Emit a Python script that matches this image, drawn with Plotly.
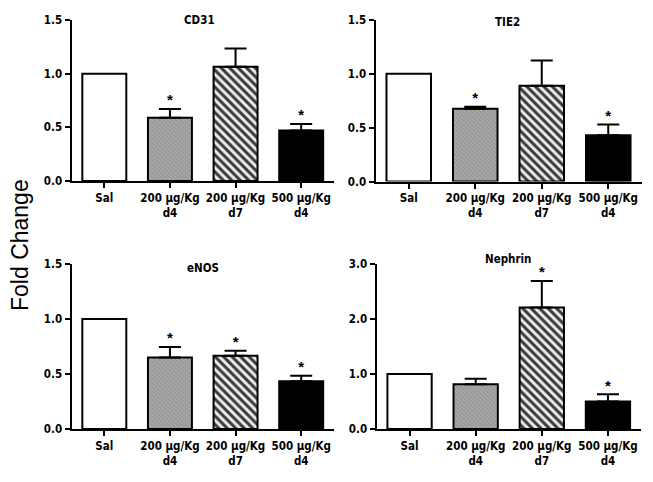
import plotly.graph_objects as go

W, H = 653, 482

categories = ["Sal", "200 µg/Kg<br>d4", "200 µg/Kg<br>d7", "500 µg/Kg<br>d4"]
panel_titles = ["CD31", "TIE2", "eNOS", "Nephrin"]

cd31_vals = [1.0, 0.59, 1.065, 0.47]
cd31_err = [0.0, 0.08, 0.17, 0.06]
cd31_sig = [False, True, False, True]

tie2_vals = [1.0, 0.675, 0.89, 0.43]
tie2_err = [0.0, 0.02, 0.235, 0.10]
tie2_sig = [False, True, False, True]

enos_vals = [1.0, 0.65, 0.665, 0.435]
enos_err = [0.0, 0.095, 0.047, 0.05]
enos_sig = [False, True, True, True]

nephrin_vals = [1.0, 0.815, 2.21, 0.50]
nephrin_err = [0.0, 0.10, 0.48, 0.13]
nephrin_sig = [False, False, True, True]

y_ticks_small = [0.0, 0.5, 1.0, 1.5]
y_ticks_nephrin = [0.0, 1.0, 2.0, 3.0]

panels = [
    (cd31_vals, cd31_err, cd31_sig, y_ticks_small),
    (tie2_vals, tie2_err, tie2_sig, y_ticks_small),
    (enos_vals, enos_err, enos_sig, y_ticks_small),
    (nephrin_vals, nephrin_err, nephrin_sig, y_ticks_nephrin),
]

# pixel boxes: (x0, x1, ytop, ybottom)
boxes = [
    (71.5, 334.0, 20.0, 181.0),
    (375.5, 641.5, 20.0, 181.5),
    (71.5, 334.0, 264.0, 429.0),
    (376.5, 641.0, 264.0, 429.0),
]
title_pos = [(200, 20), (507, 22), (203, 268), (508, 259)]

bar_styles = [
    dict(color="white", pattern=None),
    dict(color="#a4a4a4", pattern=dict(shape="\\", bgcolor="#a9a9a9", fgcolor="#939393",
                                        size=3, solidity=0.4)),
    dict(color="white", pattern=dict(shape="\\", bgcolor="#ececec", fgcolor="#3a3a3a",
                                      size=6, solidity=0.5)),
    dict(color="black", pattern=None),
]

fig = go.Figure()
font_fam = "DejaVu Sans Condensed, Liberation Sans, Arial, sans-serif"
idx = list(range(len(categories)))

for i, (vals, errs, sig, yt) in enumerate(panels):
    n = "" if i == 0 else str(i + 1)
    xa, ya = "x" + n, "y" + n
    for k in idx:
        st = bar_styles[k]
        marker = dict(color=st["color"], line=dict(color="black", width=2))
        if st["pattern"] is not None:
            marker["pattern"] = st["pattern"]
        fig.add_trace(go.Bar(
            x=[k], y=[vals[k]], xaxis=xa, yaxis=ya, width=0.67,
            marker=marker,
            error_y=dict(type="data", symmetric=False, array=[errs[k]],
                         arrayminus=[0], color="black", thickness=2, width=11,
                         visible=errs[k] > 0),
            showlegend=False,
        ))
    sx = [k for k in idx if sig[k]]
    sy = [vals[k] + errs[k] for k in idx if sig[k]]
    fig.add_trace(go.Scatter(
        x=sx, y=sy, xaxis=xa, yaxis=ya, mode="text", text=["*"] * len(sx),
        textposition="top center", cliponaxis=False,
        textfont=dict(family="Liberation Sans, Arial", size=15, color="black", weight="bold"),
        showlegend=False,
    ))
    x0, x1, yt0, yb = boxes[i]
    fig.layout["xaxis" + n] = dict(
        domain=[x0 / W, x1 / W], range=[-0.5, 3.5], anchor=ya,
        tickvals=idx, ticktext=categories, ticks="outside", ticklen=5, tickwidth=2,
        tickangle=0,
        tickcolor="black", showline=True, linecolor="black", linewidth=2,
        showgrid=False, zeroline=False, fixedrange=True, automargin=False,
        tickfont=dict(family=font_fam, size=11.5, color="black", weight="bold"),
    )
    fig.layout["yaxis" + n] = dict(
        domain=[1 - yb / H, 1 - yt0 / H], range=[0, yt[-1]], anchor=xa,
        tickvals=yt, tickformat=".1f", ticks="outside", ticklen=5, tickwidth=2,
        tickcolor="black", showline=True, linecolor="black", linewidth=2,
        showgrid=False, zeroline=False, fixedrange=True, automargin=False,
        tickfont=dict(family=font_fam, size=11.5, color="black", weight="bold"),
    )
    tx, ty = title_pos[i]
    fig.add_annotation(x=tx / W, y=1 - ty / H, xref="paper", yref="paper",
                       xanchor="center", yanchor="middle",
                       text=panel_titles[i], showarrow=False,
                       font=dict(family=font_fam, size=11.5, color="black", weight="bold"))

fig.add_annotation(x=20 / W, y=1 - 245 / H, xref="paper", yref="paper",
                   xanchor="center", yanchor="middle",
                   text="Fold Change", textangle=-90, showarrow=False,
                   font=dict(family="Liberation Sans, Arial", size=23, color="black"))

fig.update_layout(template="none", width=W, height=H, margin=dict(l=0, r=0, t=0, b=0),
                  paper_bgcolor="white", plot_bgcolor="white", barmode="overlay")
fig.write_html("out.html", config={"displayModeBar": False},
               post_script="document.body.style.margin='0';")
